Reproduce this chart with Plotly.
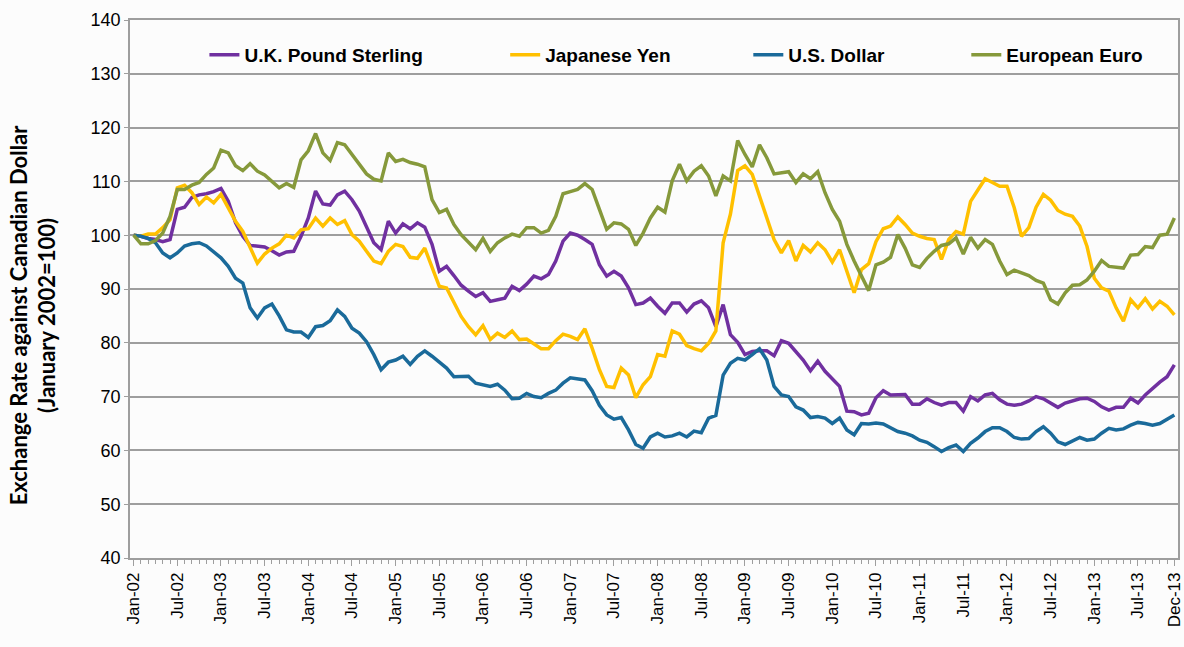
import plotly.graph_objects as go

month_names = ["Jan", "Feb", "Mar", "Apr", "May", "Jun", "Jul", "Aug", "Sep", "Oct", "Nov", "Dec"]
years = ["02", "03", "04", "05", "06", "07", "08", "09", "10", "11", "12", "13"]
months = [f"{m}-{y}" for y in years for m in month_names]

gbp = [100, 99.8, 99.4, 99.2, 98.8, 99.2, 104.8, 105.2, 107, 107.5, 107.7, 108.1,
       108.7, 106.3, 102.3, 99.8, 98.1, 98, 97.8, 97.1, 96.3, 96.9, 97, 99.8,
       103.2, 108.2, 105.8, 105.6, 107.5, 108.2, 106.6, 104.5, 101.4, 98.6, 97.3, 102.6,
       100.4, 102.1, 101.2, 102.3, 101.5, 98.3, 93.3, 94.2, 92.5, 90.7, 89.6, 88.6,
       89.3, 87.7, 88, 88.3, 90.5, 89.7, 90.9, 92.4, 91.9, 92.7, 95.2, 98.9,
       100.4, 100, 99.2, 98.3, 94.5, 92.4, 93.3, 92.4, 90.2, 87.1, 87.4, 88.3,
       86.8, 85.5, 87.4, 87.4, 85.7, 87.2, 87.8, 86.5, 83, 87.1, 81.5, 80.1,
       77.8, 78.4, 78.5, 78.5, 77.6, 80.4, 79.9, 78.4, 76.8, 74.8, 76.6, 74.7,
       73.4, 71.9, 67.3, 67.2, 66.6, 66.9, 69.8, 71.1, 70.3, 70.4, 70.4, 68.6,
       68.6, 69.6, 68.9, 68.4, 68.9, 68.9, 67.3, 70, 69.2, 70.3, 70.6, 69.4,
       68.6, 68.4, 68.6, 69.2, 70, 69.6, 68.8, 68, 68.8, 69.2, 69.6, 69.7,
       69.1, 68.1, 67.5, 68, 68, 69.7, 68.8, 70.3, 71.6, 72.7, 73.7, 75.9]

jpy = [100, 99.8, 100.2, 100.2, 101.4, 102.9, 108.8, 109.3, 107.9, 105.7, 107.1, 106,
       107.6, 105, 102.6, 100.7, 97.9, 94.8, 96.5, 97.6, 98.4, 100, 99.5, 101,
       101.2, 103.2, 101.7, 103.2, 102, 102.7, 100.1, 98.9, 97, 95.2, 94.7, 97,
       98.3, 97.9, 95.9, 95.7, 97.6, 93.9, 90.5, 90.2, 87.7, 84.9, 83, 81.5,
       83.2, 80.6, 81.8, 81, 82.2, 80.6, 80.7, 79.8, 78.9, 78.9, 80.4, 81.6,
       81.2, 80.6, 82.6, 79, 75, 71.9, 71.7, 75.3, 74, 69.8, 72.2, 73.7,
       77.8, 77.5, 82.2, 81.6, 79.5, 78.9, 78.5, 79.9, 82.2, 98.6, 103.9, 112,
       112.9, 111.3, 107.3, 103.2, 99.2, 96.7, 99, 95.2, 98.1, 96.9, 98.6, 97.3,
       95, 97.3, 93.3, 89.3, 93.6, 94.7, 98.8, 101.2, 101.7, 103.4, 102, 100.4,
       99.8, 99.4, 99.2, 95.5, 99.2, 100.7, 100.2, 106.3, 108.4, 110.5, 109.8, 109.1,
       109.1, 105.1, 99.8, 101.4, 105.2, 107.6, 106.5, 104.6, 103.9, 103.5, 101.7, 97.9,
       92, 90.2, 89.6, 86.5, 84, 88, 86.5, 88.2, 86.3, 87.7, 86.8, 85.2]

usd = [100, 99.8, 99.4, 98.6, 96.7, 95.8, 96.7, 98, 98.4, 98.6, 98, 97,
       95.8, 94.2, 92, 91.1, 86.5, 84.6, 86.5, 87.2, 85, 82.4, 82, 82,
       81, 83, 83.2, 84.1, 86.1, 84.9, 82.7, 81.8, 80.2, 77.8, 75, 76.4,
       76.8, 77.5, 76, 77.5, 78.5, 77.5, 76.5, 75.3, 73.7, 73.7, 73.8, 72.5,
       72.2, 71.9, 72.3, 71.2, 69.6, 69.7, 70.6, 70, 69.8, 70.6, 71.2, 72.5,
       73.5, 73.3, 73.1, 71.1, 68.4, 66.6, 65.8, 66.1, 63.8, 61.1, 60.4, 62.5,
       63.2, 62.5, 62.7, 63.2, 62.5, 63.6, 63.3, 66, 66.5, 74, 76.2, 77.1,
       76.8, 77.8, 78.9, 76.8, 71.9, 70.3, 70, 68.1, 67.5, 66.1, 66.3, 66,
       65, 66, 63.8, 62.9, 65, 64.9, 65.1, 64.9, 64.2, 63.5, 63.2, 62.7,
       61.9, 61.5, 60.7, 59.8, 60.5, 61, 59.8, 61.3, 62.3, 63.5, 64.2, 64.2,
       63.5, 62.4, 62.1, 62.2, 63.5, 64.4, 63.2, 61.6, 61.1, 61.7, 62.4, 61.9,
       62.1, 63.2, 64.1, 63.8, 64, 64.7, 65.2, 65, 64.7, 65, 65.8, 66.6]

eur = [100, 98.4, 98.4, 99, 100.4, 103.5, 108.5, 108.5, 109.3, 109.8, 111.3, 112.5,
       115.8, 115.3, 112.9, 112, 113.3, 111.9, 111.2, 110.1, 108.8, 109.6, 108.9, 114,
       115.7, 118.9, 115.3, 113.9, 117.2, 116.8, 115, 113.3, 111.4, 110.4, 110.1, 115.3,
       113.7, 114.1, 113.5, 113.2, 112.7, 106.6, 104.2, 104.8, 102, 100.1, 98.8, 97.3,
       99.4, 97, 98.6, 99.5, 100.2, 99.8, 101.4, 101.4, 100.4, 100.9, 103.5, 107.7,
       108.1, 108.5, 109.6, 108.5, 104.8, 101.1, 102.3, 102.1, 101.1, 98.1, 100.4, 103.2,
       105.2, 104.3, 110.1, 113.2, 110.1, 111.9, 112.9, 111, 107.3, 111, 110.1, 117.6,
       115, 112.7, 116.8, 114.4, 111.4, 111.6, 111.8, 109.8, 111.4, 110.5, 111.8, 107.9,
       104.8, 102.6, 98.3, 95.2, 92.4, 89.7, 94.5, 95, 95.9, 100.1, 97.6, 94.5,
       94, 95.7, 97, 98.1, 98.4, 99.5, 96.5, 99.6, 97.6, 99.2, 98.3, 95.2,
       92.7, 93.5, 93, 92.5, 91.6, 91.1, 88, 87.2, 89.3, 90.7, 90.8, 91.7,
       93.3, 95.3, 94.2, 94, 93.9, 96.3, 96.4, 97.9, 97.7, 100, 100.2, 103.2]

series_names = ["U.K. Pound Sterling", "Japanese Yen", "U.S. Dollar", "European Euro"]
series_values = [gbp, jpy, usd, eur]
series_colors = ["#7030A0", "#FFC000", "#1A6A9A", "#86993B"]
legend_ids = ["legend", "legend2", "legend3", "legend4"]
legend_x = [0.071, 0.358, 0.590, 0.798]

tick_labels = ["Jan-02", "Jul-02", "Jan-03", "Jul-03", "Jan-04", "Jul-04", "Jan-05", "Jul-05",
               "Jan-06", "Jul-06", "Jan-07", "Jul-07", "Jan-08", "Jul-08", "Jan-09", "Jul-09",
               "Jan-10", "Jul-10", "Jan-11", "Jul-11", "Jan-12", "Jul-12", "Jan-13", "Jul-13", "Dec-13"]

x_idx = list(range(len(months)))
tick_vals = [months.index(t) for t in tick_labels]

fig = go.Figure()
for name, vals, col, lg in zip(series_names, series_values, series_colors, legend_ids):
    fig.add_trace(go.Scatter(x=x_idx, y=vals, mode="lines", name=name,
                             line=dict(color=col, width=3.5), legend=lg,
                             customdata=months, hovertemplate="%{customdata}: %{y}<extra>" + name + "</extra>"))

grid_col = "#9E9E9E"
bg = "#FCFCFC"
legend_font = dict(family="Liberation Sans, Arial, sans-serif", size=19, color="#000000", weight="bold")
layout_legends = {}
for lg, lx in zip(legend_ids, legend_x):
    layout_legends[lg] = dict(x=lx, y=0.935, xanchor="left", yanchor="middle", orientation="h",
                              bgcolor="rgba(0,0,0,0)", font=legend_font,
                              borderwidth=0, tracegroupgap=0)

fig.update_layout(
    width=1184, height=647,
    margin=dict(l=130, r=6, t=20, b=89, autoexpand=False),
    paper_bgcolor=bg, plot_bgcolor=bg,
    showlegend=True,
    font=dict(family="Liberation Sans, Arial, sans-serif", color="#000000"),
    xaxis=dict(range=[-0.5, len(months) - 0.5], tickvals=tick_vals, ticktext=tick_labels,
               tickangle=-90, tickfont=dict(size=17), showgrid=False, zeroline=False,
               showline=True, linecolor=grid_col, linewidth=1.5, mirror=True,
               ticklabeloverflow="allow",
               ticks="outside", ticklen=6, tickcolor=grid_col, tickwidth=1.2,
               minor=dict(dtick=1, tick0=0, ticks="outside", ticklen=4, tickcolor=grid_col, tickwidth=1)),
    yaxis=dict(range=[40, 140], dtick=10, tickfont=dict(size=18), showgrid=True,
               gridcolor=grid_col, gridwidth=1.5, zeroline=False, showline=True,
               linecolor=grid_col, linewidth=1.5, mirror=True, ticks="outside",
               ticklen=4, tickcolor=grid_col),
    annotations=[dict(text="<b>Exchange Rate against Canadian Dollar<br>(January 2002=100)</b>",
                      xref="paper", yref="paper", x=-0.093, y=0.452, xanchor="center", yanchor="middle",
                      textangle=-90, showarrow=False,
                      font=dict(family="Lato, sans-serif", size=22, color="#000000"))],
    **layout_legends,
)

fig.write_html("out.html", config={"displayModeBar": False},
               post_script="document.body.style.margin='0';document.body.style.padding='0';")
